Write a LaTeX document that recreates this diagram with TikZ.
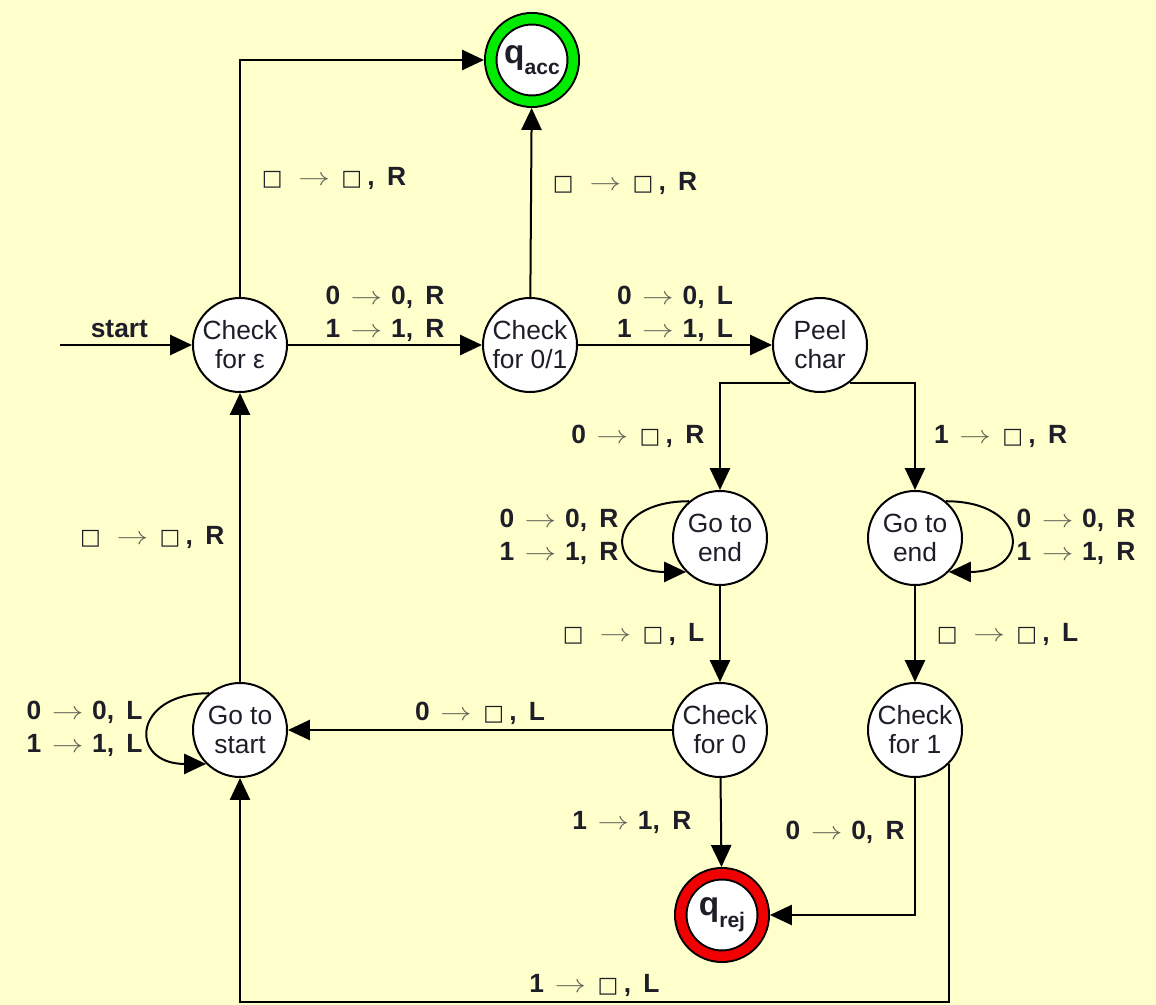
\documentclass[tikz,border=0pt]{standalone}
\usepackage{fontspec}
\setmainfont{Liberation Sans}
\newfontfamily\symfont{DejaVu Sans}
\usetikzlibrary{positioning, arrows.meta}
\definecolor{paper}{RGB}{255,255,204}
\definecolor{inkdark}{RGB}{30,30,40}
\definecolor{arrowgray}{RGB}{100,100,90}
\definecolor{accgreen}{RGB}{0,235,0}
\definecolor{rejred}{RGB}{240,0,0}
\newcommand{\blk}{\hspace{1.5pt}{\symfont\mdseries\fontsize{12.5}{12.5}\selectfont □}\hspace{3pt}}
\newcommand{\goes}{\hspace{6pt}{\color{arrowgray}\scalebox{1.25}[1]{$\rightarrow$}}\hspace{5pt}}
\newcommand{\mv}[3]{#1\goes#2,\hspace{7pt}#3}
\tikzset{
  state/.style={
    circle, draw=black, line width=0.4mm, fill=white, text=inkdark,
    minimum size=18.8mm, inner sep=0pt, align=center,
    font=\fontsize{15}{16.5}\selectfont
  },
  halt/.style={
    state, minimum size=16.5mm, double distance=1.9mm, outer sep=1.35mm,
    font=\fontsize{19}{19}\selectfont\bfseries
  },
  accept/.style={halt, double=accgreen},
  reject/.style={halt, double=rejred},
  trans/.style={-{Triangle[length=12.5pt,width=11.5pt]}, line width=0.4mm, black},
  lbl/.style={font=\fontsize{15}{19}\selectfont\bfseries, text=inkdark, align=center}
}

\begin{document}
\begin{tikzpicture}[x=0.2mm, y=-0.2mm]
  \fill[paper] (0,0) rectangle (1156,1005);
  \useasboundingbox (0,0) rectangle (1156,1005);

  \node[state] (ce) at (240,345) {Check\\for ε};
  \node[state] (c01) at (530,345) {Check\\for 0/1};
  \node[state] (peel) at (820,345) {Peel\\char};
  \node[accept] (acc) at (532,60) {q\raisebox{-0.35em}{\fontsize{12}{12}\selectfont acc}};
  \node[state] (ge0) at (720,538) {Go to\\end};
  \node[state] (ge1) at (915,538) {Go to\\end};
  \node[state] (ch0) at (720,730) {Check\\for 0};
  \node[state] (ch1) at (915,730) {Check\\for 1};
  \node[state] (gs) at (240,730) {Go to\\start};
  \node[reject] (rej) at (722,915) {q\raisebox{-0.35em}{\fontsize{12}{12}\selectfont rej}};
  \coordinate (st) at (60,345);
  \coordinate (bot) at (0,1002);

  \draw[trans] (st) -- node[lbl, above=0pt, pos=0.45]{start} (ce);
  \draw[trans] (ce) |- node[lbl, right=7pt, pos=0.25]{\mv{\blk}{\blk}{R}} (acc);
  \draw[trans] (ce) -- node[lbl, above=-2pt]{\mv{0}{0}{R}\\\mv{1}{1}{R}} (c01);
  \draw[trans] (c01) -- node[lbl, right=7pt, pos=0.6]{\mv{\blk}{\blk}{R}} (acc);
  \draw[trans] (c01) -- node[lbl, above=-2pt]{\mv{0}{0}{L}\\\mv{1}{1}{L}} (peel);
  \draw[trans] (peel.232) -| node[lbl, left=5pt, pos=0.75]{\mv{0}{\blk}{R}} (ge0);
  \draw[trans] (peel.308) -| node[lbl, right=7pt, pos=0.75]{\mv{1}{\blk}{R}} (ge1);
  \draw[trans] (ge0.130) to[out=180, in=180, looseness=3] node[lbl, left]{\mv{0}{0}{R}\\\mv{1}{1}{R}} (ge0.225);
  \draw[trans] (ge1.50) to[out=0, in=0, looseness=3] node[lbl, right]{\mv{0}{0}{R}\\\mv{1}{1}{R}} (ge1.-45);
  \draw[trans] (ge0) -- node[lbl, left=5pt]{\mv{\blk}{\blk}{L}} (ch0);
  \draw[trans] (ge1) -- node[lbl, right=7pt]{\mv{\blk}{\blk}{L}} (ch1);
  \draw[trans] (ch0) -- node[lbl, above=-1pt]{\mv{0}{\blk}{L}} (gs);
  \draw[trans] (ch0) -- node[lbl, left=13pt]{\mv{1}{1}{R}} (rej);
  \draw[trans] (ch1) |- node[lbl, left=2pt, pos=0.2]{\mv{0}{0}{R}} (rej);
  \draw[trans] (ch1.south east) -- (ch1.south east |- bot) -| node[lbl, above=-1pt, pos=0.25]{\mv{1}{\blk}{L}} (gs);
  \draw[trans] (gs) -- node[lbl, left=5pt]{\mv{\blk}{\blk}{R}} (ce);
  \draw[trans] (gs.130) to[out=180, in=180, looseness=2.8] node[lbl, left]{\mv{0}{0}{L}\\\mv{1}{1}{L}} (gs.225);
\end{tikzpicture}
\end{document}
